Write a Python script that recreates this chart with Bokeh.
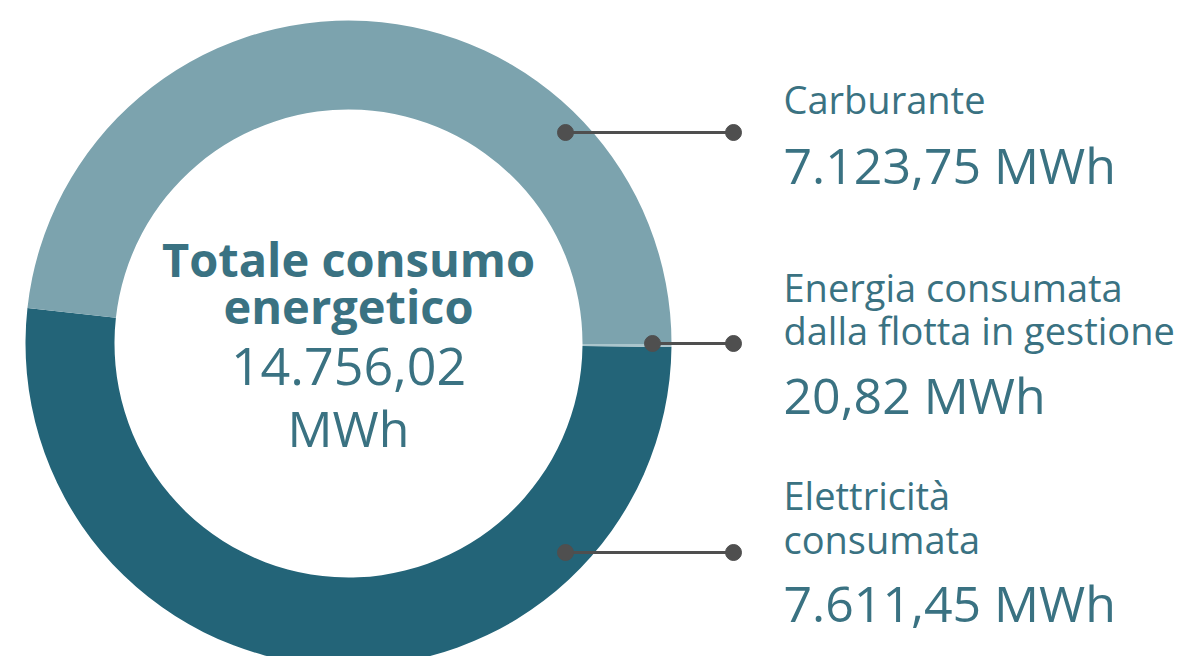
from math import pi
from bokeh.plotting import figure
from bokeh.models import Range1d, ColumnDataSource
from bokeh.core.properties import value
from bokeh.embed import file_html
from bokeh.resources import INLINE

# ---- data ----
categories = ["Elettricità consumata", "Carburante", "Energia consumata dalla flotta in gestione"]
values_mwh = [7611.45, 7123.75, 20.82]
colors = ["#236478", "#7CA3AE", "#AAC5CC"]
total_label = "14.756,02"
value_labels = ["7.611,45 MWh", "7.123,75 MWh", "20,82 MWh"]

FONT = "Open Sans"
TXT = "#3A7282"
LINE = "#4F4F4F"

W, H = 1196, 656
p = figure(width=W, height=H, output_backend="svg", toolbar_location=None,
           x_range=Range1d(0, W), y_range=Range1d(-H, 0),
           min_border=0, outline_line_color=None, background_fill_color="white")
p.axis.visible = False
p.grid.visible = False

# donut geometry (pixel-based coords, y = -screen_y)
cx, cy = 348, -343
r_out, r_in = 323, 234
total = sum(values_mwh)
a0 = -0.6 * pi / 180
starts, ends = [], []
cum = 0.0
for v in values_mwh:
    starts.append(a0 - 2 * pi * cum / total)
    cum += v
    ends.append(a0 - 2 * pi * cum / total)

src = ColumnDataSource(dict(start=starts, end=ends, color=colors, cat=categories))
p.annular_wedge(x=cx, y=cy, inner_radius=r_in, outer_radius=r_out,
                start_angle="start", end_angle="end", direction="clock",
                fill_color="color", line_color=None, source=src)

# connectors
seg = ColumnDataSource(dict(x0=[565, 652, 565], x1=[733, 733, 733], y=[-132, -343, -552]))
p.segment(x0="x0", y0="y", x1="x1", y1="y", line_color=LINE, line_width=3, source=seg)
p.scatter(x="x0", y="y", size=16, color=LINE, source=seg)
p.scatter(x="x1", y="y", size=16, color=LINE, source=seg)

def txt(x, y, s, size, bold=False, align="left"):
    # y is the wanted baseline (screen px); compensate the renderer's baseline offset
    shift = 0.40 * size if size > 42 else 0.33 * size
    p.text(x=[x], y=[y + shift], text=[s], text_font=value(FONT), text_font_size=f"{size}px",
           text_font_style="bold" if bold else "normal", text_color=TXT,
           text_align=align, text_baseline="alphabetic")

# center
txt(cx, -277, "Totale consumo", 47, bold=True, align="center")
txt(cx, -324, "energetico", 47, bold=True, align="center")
txt(cx, -387, total_label, 52, align="center")
txt(cx, -447, "MWh", 50, align="center")

# right labels
LX = 783
txt(LX, -111, "Carburante", 38)
txt(LX, -184, value_labels[1], 50)
txt(LX, -299, "Energia consumata", 38)
txt(LX, -342, "dalla flotta in gestione", 38)
txt(LX, -414, value_labels[2], 50)
txt(LX, -507, "Elettricità", 38)
txt(LX, -551, "consumata", 38)
txt(LX, -622, value_labels[0], 50)

open("out.html", "w").write(file_html(p, INLINE))
